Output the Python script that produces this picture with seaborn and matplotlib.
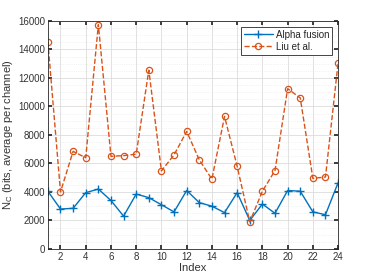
import numpy as np
import pandas as pd
import matplotlib
matplotlib.use("Agg")
import matplotlib.pyplot as plt
from matplotlib.ticker import MultipleLocator, NullLocator
import seaborn as sns

# values
index = list(range(1, 25))
alpha_fusion = [4050, 2800, 2850, 3950, 4200, 3400, 2300, 3850, 3600, 3100, 2600, 4100,
                3250, 3000, 2550, 3950, 2000, 3150, 2500, 4100, 4050, 2600, 2400, 4650]
liu_et_al = [14550, 4000, 6850, 6400, 15750, 6500, 6550, 6650, 12550, 5480, 6600, 8250,
             6250, 4900, 9300, 5800, 1900, 4050, 5500, 11250, 10600, 4950, 5050, 13050]

sns.set_theme(style="whitegrid")
plt.rcParams['font.family'] = ['Liberation Sans', 'DejaVu Sans']

df = pd.DataFrame({'Index': index, 'Alpha fusion': alpha_fusion, 'Liu et al.': liu_et_al})

blue = '#0072BD'
orange = '#D95319'

fig = plt.figure(figsize=(3.74, 2.8), dpi=100)
ax = fig.add_axes([0.128, 0.111, 0.776, 0.814])

sns.lineplot(data=df, x='Index', y='Alpha fusion', ax=ax, color=blue, lw=1.0,
             marker='+', markersize=6, markeredgewidth=1.0, markeredgecolor=blue,
             label='Alpha fusion')
sns.lineplot(data=df, x='Index', y='Liu et al.', ax=ax, color=orange, lw=1.0,
             linestyle='--', marker='o', markersize=4.5, markerfacecolor='none',
             markeredgecolor=orange, markeredgewidth=0.9, label='Liu et al.')

ax.set_xlim(1, 24)
ax.set_ylim(0, 16000)
ax.xaxis.set_major_locator(MultipleLocator(2))
ax.xaxis.set_minor_locator(NullLocator())
ax.yaxis.set_major_locator(MultipleLocator(2000))
ax.yaxis.set_minor_locator(MultipleLocator(500))
ax.grid(True, which='major', color='#dcdcdc', lw=0.6)
ax.grid(True, which='minor', axis='y', color='#e8e8e8', lw=0.5, linestyle=':')
ax.tick_params(which='major', direction='in', length=3, labelsize=7, colors='#262626',
               labelcolor='#333333', top=True, right=True, bottom=True, left=True, pad=2)
ax.tick_params(which='minor', length=0)
for s in ax.spines.values():
    s.set_color('#262626')
    s.set_linewidth(0.6)

ax.set_xlabel('Index', fontsize=8, color='#333333', labelpad=1)
ax.set_ylabel('N$_\\mathregular{C}$ (bits, average per channel)', fontsize=8,
              color='#333333', labelpad=2)

leg = ax.legend(loc='upper right', fontsize=7, frameon=True, fancybox=False,
                edgecolor='#262626', framealpha=1, borderpad=0.3, handlelength=3.0,
                labelspacing=0.2, handletextpad=0.3, borderaxespad=0.6)
leg.get_frame().set_linewidth(0.6)

fig.savefig('out.png', dpi=100)
